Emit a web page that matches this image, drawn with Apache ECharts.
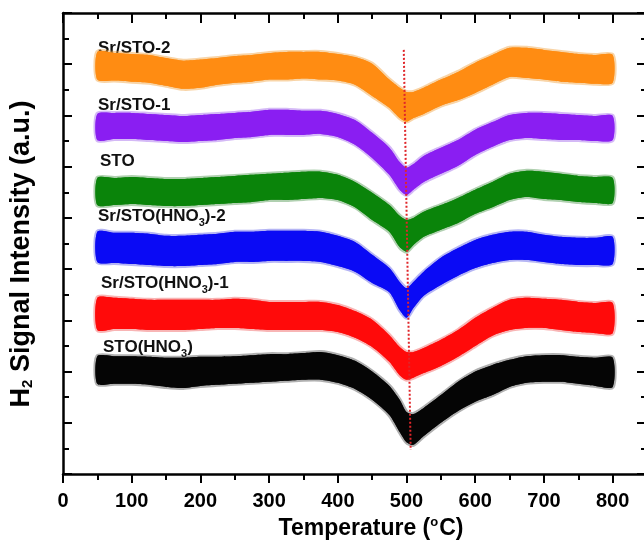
<!DOCTYPE html>
<html>
<head>
<meta charset="utf-8">
<script src="https://cdn.jsdelivr.net/npm/echarts@6/dist/echarts.min.js"></script>
<style>
  html, body { margin: 0; padding: 0; background: #fff; }
  #chart { width: 644px; height: 541px; }
</style>
</head>
<body>
<div id="chart"></div>
<script>
// Temperature sample points (°C) at which each noise band's upper / lower envelope is given
const temps = [50, 75, 100, 125, 150, 175, 200, 225, 250, 275, 300, 325, 350, 375, 400, 425, 450, 475, 490, 500, 510, 525, 550, 575, 600, 625, 650, 675, 700, 725, 750, 775, 800];

// H2 signal envelopes (a.u., traces offset vertically)
const srSto2Hi = [8.24, 8.22, 8.20, 8.18, 8.12, 8.07, 8.09, 8.12, 8.16, 8.18, 8.22, 8.24, 8.24, 8.24, 8.20, 8.14, 8.01, 7.70, 7.54, 7.46, 7.46, 7.54, 7.70, 7.85, 8.03, 8.18, 8.32, 8.32, 8.28, 8.24, 8.20, 8.18, 8.18];
const srSto2Lo = [7.70, 7.68, 7.66, 7.64, 7.58, 7.52, 7.54, 7.60, 7.64, 7.66, 7.70, 7.70, 7.72, 7.70, 7.68, 7.60, 7.38, 7.15, 6.95, 6.88, 6.95, 7.03, 7.19, 7.30, 7.44, 7.60, 7.75, 7.73, 7.70, 7.66, 7.64, 7.62, 7.64];

const srSto1Hi = [7.03, 7.05, 7.05, 7.03, 7.01, 6.99, 7.01, 7.03, 7.05, 7.07, 7.11, 7.11, 7.09, 7.09, 7.03, 6.91, 6.66, 6.37, 6.09, 5.98, 6.05, 6.21, 6.37, 6.52, 6.72, 6.87, 7.01, 7.05, 7.05, 7.03, 7.01, 6.99, 6.99];
const srSto1Lo = [6.52, 6.54, 6.54, 6.52, 6.50, 6.48, 6.50, 6.52, 6.56, 6.58, 6.62, 6.62, 6.62, 6.64, 6.58, 6.43, 6.17, 5.84, 5.55, 5.45, 5.55, 5.70, 5.86, 6.02, 6.23, 6.39, 6.52, 6.56, 6.54, 6.52, 6.52, 6.50, 6.52];

const stoHi = [5.78, 5.78, 5.80, 5.78, 5.76, 5.76, 5.78, 5.80, 5.82, 5.84, 5.86, 5.88, 5.90, 5.90, 5.84, 5.70, 5.49, 5.25, 5.04, 4.96, 5.00, 5.12, 5.25, 5.39, 5.55, 5.70, 5.86, 5.92, 5.90, 5.86, 5.82, 5.80, 5.78];
const stoLo = [5.25, 5.25, 5.27, 5.25, 5.23, 5.23, 5.25, 5.27, 5.29, 5.31, 5.35, 5.35, 5.37, 5.39, 5.35, 5.21, 4.96, 4.73, 4.43, 4.34, 4.47, 4.63, 4.77, 4.90, 5.08, 5.21, 5.35, 5.41, 5.37, 5.35, 5.31, 5.29, 5.29];

const srStoHno2Hi = [4.73, 4.71, 4.71, 4.69, 4.65, 4.65, 4.67, 4.69, 4.73, 4.73, 4.75, 4.75, 4.75, 4.73, 4.65, 4.53, 4.28, 4.02, 3.75, 3.63, 3.75, 3.95, 4.22, 4.41, 4.57, 4.67, 4.73, 4.73, 4.67, 4.63, 4.61, 4.61, 4.63];
const srStoHno2Lo = [4.14, 4.12, 4.10, 4.08, 4.06, 4.06, 4.08, 4.10, 4.14, 4.14, 4.16, 4.16, 4.16, 4.14, 4.06, 3.95, 3.73, 3.55, 3.20, 3.05, 3.24, 3.48, 3.69, 3.87, 4.02, 4.12, 4.18, 4.18, 4.14, 4.10, 4.08, 4.08, 4.10];

const srStoHno1Hi = [3.44, 3.44, 3.42, 3.40, 3.40, 3.40, 3.40, 3.40, 3.42, 3.40, 3.36, 3.36, 3.36, 3.36, 3.30, 3.18, 3.01, 2.71, 2.48, 2.38, 2.38, 2.46, 2.62, 2.81, 3.05, 3.24, 3.40, 3.44, 3.42, 3.40, 3.36, 3.34, 3.34];
const srStoHno1Lo = [2.81, 2.83, 2.83, 2.81, 2.81, 2.81, 2.83, 2.85, 2.85, 2.83, 2.81, 2.81, 2.81, 2.81, 2.77, 2.66, 2.48, 2.19, 1.93, 1.84, 1.88, 1.97, 2.11, 2.29, 2.50, 2.70, 2.81, 2.85, 2.85, 2.81, 2.77, 2.75, 2.75];

const stoHnoHi = [2.30, 2.30, 2.30, 2.29, 2.27, 2.27, 2.29, 2.29, 2.30, 2.32, 2.34, 2.34, 2.36, 2.38, 2.32, 2.21, 2.00, 1.72, 1.45, 1.21, 1.17, 1.29, 1.54, 1.80, 2.00, 2.13, 2.23, 2.30, 2.32, 2.32, 2.29, 2.27, 2.27];
const stoHnoLo = [1.76, 1.76, 1.76, 1.74, 1.70, 1.68, 1.72, 1.74, 1.76, 1.78, 1.80, 1.82, 1.84, 1.84, 1.78, 1.66, 1.45, 1.15, 0.82, 0.62, 0.57, 0.74, 1.00, 1.23, 1.41, 1.54, 1.70, 1.78, 1.80, 1.80, 1.76, 1.72, 1.70];

// Guide through the consumption minima
const guideT = [496, 506];
const guideV = [8.28, 0.47];

// Axis ticks
const xTicks = [0, 100, 200, 300, 400, 500, 600, 700, 800];

const FONT = '"Liberation Sans", Arial, Helvetica, sans-serif';

const traces = [
  { name: 'Sr/STO-2',        hi: srSto2Hi,     lo: srSto2Lo,     color: '#FF8C12', edge: 'rgba(240,160,60,0.45)' },
  { name: 'Sr/STO-1',        hi: srSto1Hi,     lo: srSto1Lo,     color: '#8A1EF2', edge: 'rgba(160,100,235,0.45)' },
  { name: 'STO',             hi: stoHi,        lo: stoLo,        color: '#0A840A', edge: 'rgba(80,150,80,0.45)' },
  { name: 'Sr/STO(HNO3)-2',  hi: srStoHno2Hi,  lo: srStoHno2Lo,  color: '#0A0AF5', edge: 'rgba(90,90,230,0.45)' },
  { name: 'Sr/STO(HNO3)-1',  hi: srStoHno1Hi,  lo: srStoHno1Lo,  color: '#FF0A0A', edge: 'rgba(240,90,90,0.45)' },
  { name: 'STO(HNO3)',       hi: stoHnoHi,     lo: stoHnoLo,     color: '#050505', edge: 'rgba(80,80,80,0.45)' }
];

// One filled band per trace, built from its envelopes through the axis scales
function bandSeries(tr) {
  return {
    type: 'custom',
    name: tr.name,
    xAxisIndex: 0,
    yAxisIndex: 0,
    silent: true,
    data: [[temps[0], tr.hi[0]]],
    encode: { x: 0, y: 1 },
    renderItem: function (params, api) {
      const top = [], bottom = [];
      for (let i = 0; i < temps.length; i++) top.push(api.coord([temps[i], tr.hi[i]]));
      for (let i = temps.length - 1; i >= 0; i--) bottom.push(api.coord([temps[i], tr.lo[i]]));
      const outline = top.concat(bottom);
      return {
        type: 'group',
        children: [
          {
            type: 'polygon',
            shape: { points: outline, smooth: 0.25 },
            style: { fill: tr.color, stroke: tr.edge, lineWidth: 4, lineJoin: 'round' }
          },
          {
            type: 'polygon',
            shape: { points: outline, smooth: 0.25 },
            style: { fill: tr.color, stroke: null }
          }
        ]
      };
    }
  };
}

const axisLine = { show: true, onZero: false, lineStyle: { color: '#000', width: 2.5 } };

const option = {
  animation: false,
  backgroundColor: '#fff',
  grid: { left: 63, right: -3, top: 13, bottom: 67, containLabel: false, outerBoundsMode: 'none' },
  xAxis: [
    {
      type: 'value', position: 'bottom', min: 0, max: 850, interval: 100,
      axisLine: axisLine,
      axisTick: { show: true, inside: false, length: 9, lineStyle: { color: '#000', width: 2 } },
      minorTick: { show: true, splitNumber: 2, length: 6, lineStyle: { color: '#000', width: 2 } },
      splitLine: { show: false },
      axisLabel: {
        margin: 17, color: '#000', fontFamily: FONT, fontWeight: 'bold', fontSize: 20,
        formatter: function (v) { return xTicks.indexOf(v) >= 0 ? String(v) : ''; }
      }
    },
    {
      type: 'value', position: 'top', min: 0, max: 850, interval: 100,
      axisLine: axisLine,
      axisTick: { show: true, inside: true, length: 10, lineStyle: { color: '#000', width: 2 } },
      minorTick: { show: true, splitNumber: 2, length: 6, lineStyle: { color: '#000', width: 2 } },
      splitLine: { show: false },
      axisLabel: { show: false }
    }
  ],
  yAxis: [
    {
      type: 'value', position: 'left', min: 0, max: 9, interval: 1,
      axisLine: axisLine,
      axisTick: { show: true, inside: true, length: 9, lineStyle: { color: '#000', width: 2 } },
      minorTick: { show: true, splitNumber: 2, length: 6, lineStyle: { color: '#000', width: 2 } },
      splitLine: { show: false },
      axisLabel: { show: false }
    },
    {
      type: 'value', position: 'right', min: 0, max: 9, interval: 1,
      axisLine: axisLine,
      axisTick: { show: true, inside: true, length: 10, lineStyle: { color: '#000', width: 2 } },
      minorTick: { show: true, splitNumber: 2, length: 6, lineStyle: { color: '#000', width: 2 } },
      splitLine: { show: false },
      axisLabel: { show: false }
    }
  ],
  series: traces.map(bandSeries).concat([
    {
      type: 'line',
      name: 'guide',
      xAxisIndex: 0,
      yAxisIndex: 0,
      silent: true,
      symbol: 'none',
      data: guideT.map(function (t, i) { return [t, guideV[i]]; }),
      lineStyle: { color: '#E0262A', width: 2, type: [2, 2] },
      z: 5
    }
  ]),
  graphic: []
};

// Trace names and axis titles
const labelRich = {
  s: { fontFamily: FONT, fontWeight: 'bold', fontSize: 11, verticalAlign: 'bottom', lineHeight: 11, fill: '#111' }
};
function traceLabel(text, x, y) {
  return {
    type: 'text', x: x, y: y, silent: true,
    style: {
      text: text, fontFamily: FONT, fontWeight: 'bold', fontSize: 17, lineHeight: 24,
      fill: '#111', rich: labelRich
    }
  };
}
option.graphic = [
  traceLabel('Sr/STO-2', 98, 36),
  traceLabel('Sr/STO-1', 98, 93),
  traceLabel('STO', 100, 149),
  traceLabel('Sr/STO(HNO{s|3})-2', 98, 204),
  traceLabel('Sr/STO(HNO{s|3})-1', 101, 271),
  traceLabel('STO(HNO{s|3})', 103, 335),
  {
    type: 'text', silent: true,
    x: 371, y: 529,
    style: {
      text: 'Temperature ({u|o}C)', fontFamily: FONT, fontWeight: 'bold', fontSize: 23, fill: '#000',
      align: 'center', verticalAlign: 'middle',
      rich: { u: { fontFamily: FONT, fontWeight: 'bold', fontSize: 13, padding: [0, 1, 14, 0] } }
    }
  },
  {
    type: 'text', silent: true,
    x: 22, y: 254, rotation: Math.PI / 2,
    style: {
      text: 'H{d|2} Signal Intensity (a.u.)', fontFamily: FONT, fontWeight: 'bold', fontSize: 27, fill: '#000',
      align: 'center', verticalAlign: 'middle',
      rich: { d: { fontFamily: FONT, fontWeight: 'bold', fontSize: 15, padding: [12, 0, 0, 0] } }
    }
  }
];

const chart = echarts.init(document.getElementById('chart'), null, { renderer: 'canvas' });
chart.setOption(option);
</script>
</body>
</html>
